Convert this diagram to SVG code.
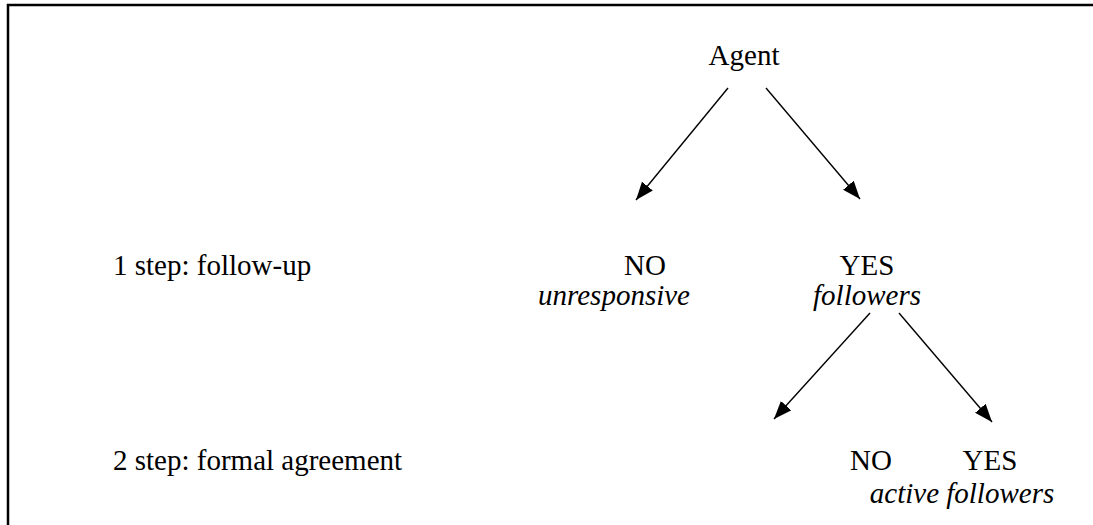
<svg xmlns="http://www.w3.org/2000/svg" width="1093" height="525" viewBox="0 0 1093 525">
<style>
text{font-family:'Liberation Serif','DejaVu Serif','Times New Roman',Times,serif;font-size:29px;fill:#000}
.c{text-anchor:middle}
.i{font-style:italic}
.ln{stroke:#000;stroke-width:1.4;fill:none}
</style>
<defs>
<marker id="ah" viewBox="0 0 18 14" refX="18" refY="7" markerWidth="18" markerHeight="14" markerUnits="userSpaceOnUse" orient="auto">
<path d="M0,0 L18,7 L0,14 Z" fill="#000"/>
</marker>
</defs>
<rect width="1093" height="525" fill="#fff"/>
<path d="M8,525 V5 H1093" stroke="#000" stroke-width="2.5" fill="none"/>
<g id="connectors">
<line class="ln" x1="728" y1="88" x2="636" y2="200" marker-end="url(#ah)"/>
<line class="ln" x1="766" y1="88" x2="860" y2="199" marker-end="url(#ah)"/>
<line class="ln" x1="870" y1="313" x2="774" y2="419" marker-end="url(#ah)"/>
<line class="ln" x1="899" y1="313" x2="992" y2="422" marker-end="url(#ah)"/>
</g>
<g id="labels">
<text x="113" y="275">1 step: follow-up</text>
<text x="113" y="470">2 step: formal agreement</text>
</g>
<g id="agent"><text class="c" x="744" y="65">Agent</text></g>
<g id="no1"><text class="c" x="645" y="275">NO</text><text class="c i" x="614" y="305">unresponsive</text></g>
<g id="yes1"><text class="c" x="867" y="275">YES</text><text class="c i" x="867" y="305">followers</text></g>
<g id="no2"><text class="c" x="871" y="470">NO</text></g>
<g id="yes2"><text class="c" x="990" y="470">YES</text><text class="c i" x="962" y="503">active followers</text></g>
</svg>
